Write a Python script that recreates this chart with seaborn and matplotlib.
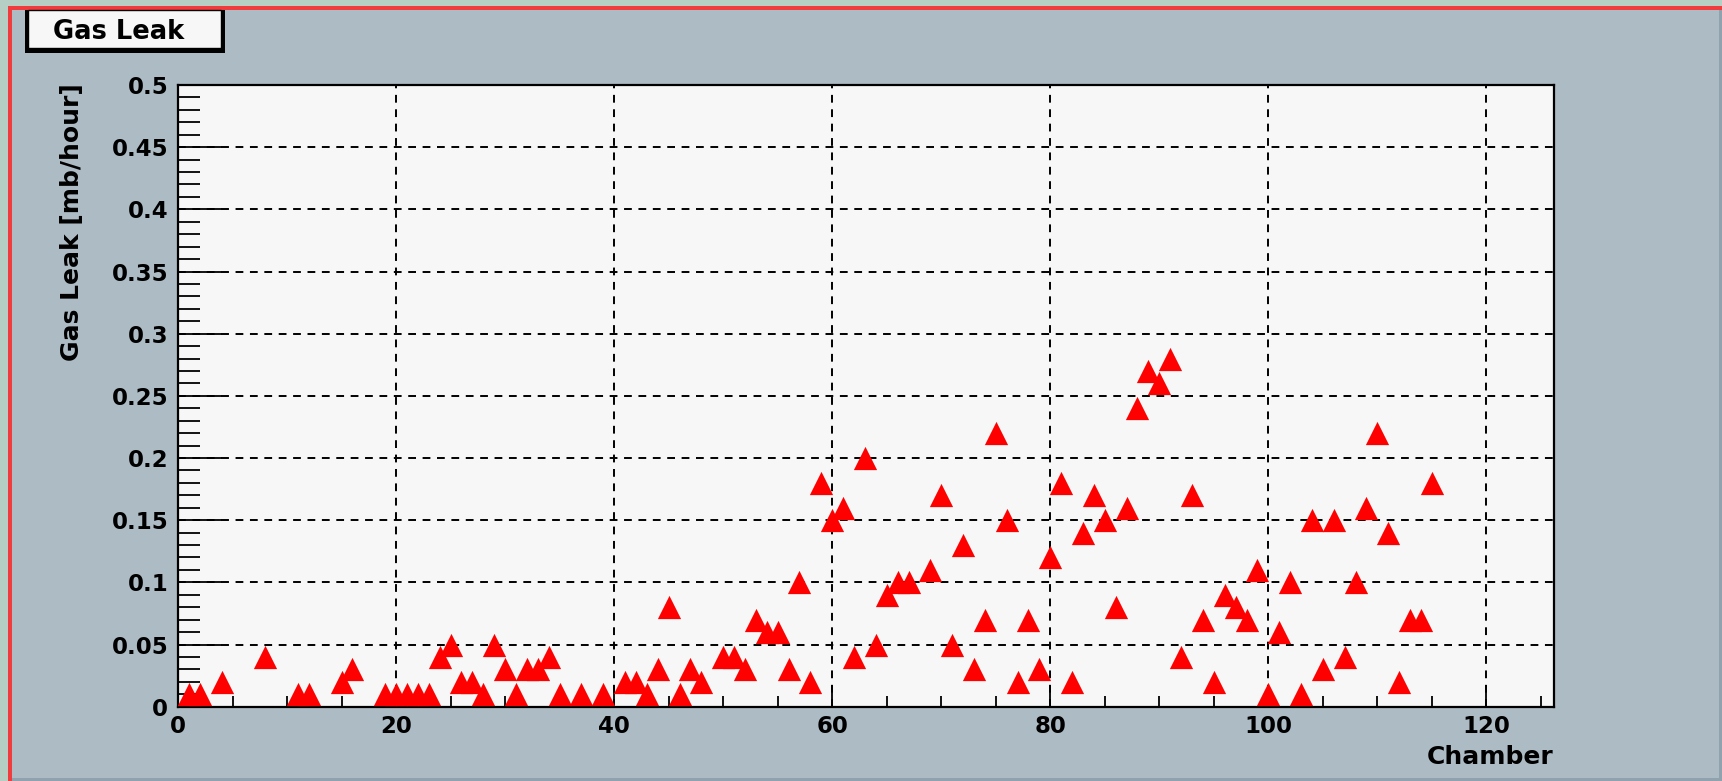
import matplotlib
matplotlib.use("Agg")
from matplotlib import pyplot as plt
from matplotlib.patches import Rectangle
from matplotlib.ticker import MultipleLocator
from pandas import DataFrame
import seaborn as sns

# chamber number and measured gas leak (mb/hour)
chambers = [1, 2, 4, 8, 11, 12, 15, 16, 19, 20, 21, 22, 23, 24, 25, 26, 27, 28,
            29, 30, 31, 32, 33, 34, 35, 37, 39, 41, 42, 43, 44, 45, 46, 47, 48,
            50, 51, 52, 53, 54, 55, 56, 57, 58, 59, 60, 61, 62, 63, 64, 65, 66,
            67, 69, 70, 71, 72, 73, 74, 75, 76, 77, 78, 79, 80, 81, 82, 83, 84,
            85, 86, 87, 88, 89, 90, 91, 92, 93, 94, 95, 96, 97, 98, 99, 100,
            101, 102, 103, 104, 105, 106, 107, 108, 109, 110, 111, 112, 113,
            114, 115]
leak = [0.01, 0.01, 0.02, 0.04, 0.01, 0.01, 0.02, 0.03, 0.01, 0.01, 0.01, 0.01,
        0.01, 0.04, 0.05, 0.02, 0.02, 0.01, 0.05, 0.03, 0.01, 0.03, 0.03, 0.04,
        0.01, 0.01, 0.01, 0.02, 0.02, 0.01, 0.03, 0.08, 0.01, 0.03, 0.02, 0.04,
        0.04, 0.03, 0.07, 0.06, 0.06, 0.03, 0.10, 0.02, 0.18, 0.15, 0.16, 0.04,
        0.20, 0.05, 0.09, 0.10, 0.10, 0.11, 0.17, 0.05, 0.13, 0.03, 0.07, 0.22,
        0.15, 0.02, 0.07, 0.03, 0.12, 0.18, 0.02, 0.14, 0.17, 0.15, 0.08, 0.16,
        0.24, 0.27, 0.26, 0.28, 0.04, 0.17, 0.07, 0.02, 0.09, 0.08, 0.07, 0.11,
        0.01, 0.06, 0.10, 0.01, 0.15, 0.03, 0.15, 0.04, 0.10, 0.16, 0.22, 0.14,
        0.02, 0.07, 0.07, 0.18]

title = "Gas Leak"
xlabel = "Chamber"
ylabel = "Gas Leak [mb/hour]"
yticks = [0, 0.05, 0.1, 0.15, 0.2, 0.25, 0.3, 0.35, 0.4, 0.45, 0.5]
yticklabels = ["0", "0.05", "0.1", "0.15", "0.2", "0.25", "0.3", "0.35",
               "0.4", "0.45", "0.5"]

panel = "#adbbc4"
W, H = 1722, 781

sns.set_style("ticks")
plt.rcParams["font.family"] = ["DejaVu Sans"]
plt.rcParams["font.weight"] = "bold"
plt.rcParams["text.color"] = "black"
plt.rcParams["axes.labelcolor"] = "black"
plt.rcParams["xtick.color"] = "black"
plt.rcParams["ytick.color"] = "black"

df = DataFrame({"chamber": chambers, "leak": leak})

fig = plt.figure(figsize=(W / 100, H / 100), dpi=100, facecolor=panel)


def px(x0, y0, x1, y1, **kw):
    # rectangle in pixel coords, y measured from the top
    r = Rectangle((x0 / W, 1 - y1 / H), (x1 - x0) / W, (y1 - y0) / H,
                  transform=fig.transFigure, **kw)
    fig.add_artist(r)
    return r


# outer frame: green strip, red border, darker right/bottom edge
px(0, 0, W, 6, facecolor="#b5cfc4", edgecolor="none", lw=0)
px(0, 0, 8, H, facecolor="#b5cfc4", edgecolor="none", lw=0)
px(8, 6, W, 10, facecolor="#f03c3c", edgecolor="none", lw=0)
px(8, 6, 12, H, facecolor="#f03c3c", edgecolor="none", lw=0)
px(12, 778, W, H, facecolor="#8fa2ae", edgecolor="none", lw=0)
px(1719, 10, W, H, facecolor="#8fa2ae", edgecolor="none", lw=0)

ax = fig.add_axes([178 / W, 1 - 706.7 / H, (1554 - 178) / W, (706.7 - 85) / H])
ax.set_facecolor("#f7f7f7")

sns.scatterplot(data=df, x="chamber", y="leak", marker="^", s=280,
                color="#ff0000", linewidth=0, ax=ax, zorder=3, clip_on=True)

ax.set_xlim(0, 126.2)
ax.set_ylim(0, 0.5)
ax.xaxis.set_major_locator(MultipleLocator(20))
ax.xaxis.set_minor_locator(MultipleLocator(5))
ax.yaxis.set_minor_locator(MultipleLocator(0.01))
ax.set_yticks(yticks)
ax.set_yticklabels(yticklabels)

ax.grid(True, which="major", color="black", lw=1.4, linestyle=(0, (4, 3.4)))
ax.tick_params(axis="x", which="major", direction="in", length=16, width=1.3,
               labelsize=16.5, pad=6)
ax.tick_params(axis="x", which="minor", direction="in", length=8, width=1.3)
ax.tick_params(axis="y", which="major", direction="in", length=32, width=1.3,
               labelsize=16.5, pad=7)
ax.tick_params(axis="y", which="minor", direction="in", length=16, width=1.3)
for lab in ax.get_xticklabels() + ax.get_yticklabels():
    lab.set_fontweight("bold")
for sp in ax.spines.values():
    sp.set_visible(True)
    sp.set_color("black")
    sp.set_linewidth(1.6)

ax.set_xlabel(xlabel, fontsize=18, fontweight="bold", loc="right")
ax.xaxis.set_label_coords(1.0, -0.062)
ax.set_ylabel(ylabel, fontsize=18, fontweight="bold", loc="top")
ax.yaxis.set_label_coords(-0.068, 1.003)

# title box with shadow, top left
px(25, 10, 225, 53, facecolor="black", edgecolor="none", lw=0)
px(28, 10, 221, 48, facecolor="#f7f7f7", edgecolor="black", lw=1.0)
fig.text(119 / W, 1 - 32 / H, title, ha="center", va="center",
         fontsize=18.5, fontweight="bold")

fig.savefig("out.png", dpi=100, facecolor=panel)
